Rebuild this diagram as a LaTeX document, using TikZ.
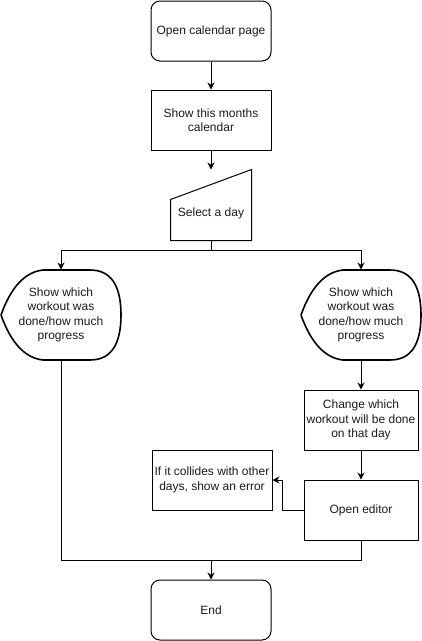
\documentclass[tikz,border=0pt]{standalone}
\usepackage{fontspec}
\setmainfont{Liberation Sans}
\usepackage{tikz}
\usetikzlibrary{positioning,arrows.meta,calc}
\definecolor{linedark}{HTML}{000000}
\definecolor{textdark}{HTML}{1A1A1A}

\tikzset{
  box/.style={draw=linedark, line width=1pt, minimum width=120pt, minimum height=60pt,
    inner sep=0pt, align=center, text=textdark, font=\fontsize{12}{14.5}\selectfont},
  termbox/.style={box, rounded corners=9pt},
  narrowbox/.style={box, minimum width=114pt},
  dispbox/.style={box, draw=none, minimum height=90pt},
  inbox/.style={box, draw=none, minimum width=80pt, minimum height=70pt},
  outline/.style={draw=linedark, line width=1.6pt, line join=round},
  arr/.style={-{Stealth[length=7pt,width=7pt]}, line width=1pt, linedark},
  wire/.style={line width=1pt, linedark}
}

% outline of the curved display shape around a node
\newcommand{\dispoutline}[1]{%
  \draw[outline] ($(#1)+(-18,-45)$) -- ($(#1)+(29,-45)$)
    .. controls ($(#1)+(49.7,-45)$) and ($(#1)+(60,-30)$) .. ($(#1)+(60,0)$)
    .. controls ($(#1)+(60,30)$) and ($(#1)+(49.7,45)$) .. ($(#1)+(29,45)$)
    -- ($(#1)+(-18,45)$)
    .. controls ($(#1)+(-36,43)$) and ($(#1)+(-50,28)$) .. ($(#1)+(-60,0)$)
    .. controls ($(#1)+(-50,-28)$) and ($(#1)+(-36,-43)$) .. cycle;}

\begin{document}
\begin{tikzpicture}[x=1pt, y=-1pt]
  \useasboundingbox (0,0) rectangle (422,641);

  % steps
  \node[termbox] (start) at (211,31) {Open calendar page};
  \node[box] (cal) at (211,120) {Show this months\\calendar};
  \node[inbox, label={[yshift=-8pt, font=\fontsize{12}{14.5}\selectfont, text=textdark]center:Select a day}] (sel) at (211,205) {};
  \draw[line width=1pt, linedark] (sel.south west) -- (sel.south east) -- (sel.north east) -- ($(sel.north west)+(0,30)$) -- cycle;

  \node[dispbox] (lshow) at (61,315) {Show which\\workout was\\done/how much\\progress};
  \node[dispbox] (rshow) at (361,315) {Show which\\workout was\\done/how much\\progress};
  \dispoutline{lshow}
  \dispoutline{rshow}

  \node[narrowbox] (change) at (361,420) {Change which\\workout will be done\\on that day};
  \node[narrowbox] (editor) at (361,510) {Open editor};
  \node[box] (error) at (212,480) {If it collides with other\\days, show an error};
  \node[termbox] (endn) at (211,610) {End};

  % helper points
  \coordinate (split) at (211,250);
  \coordinate (bend) at (282,510);
  \coordinate (join) at (211,560);

  % connectors
  \draw[arr] (start) -- (cal);
  \draw[arr] (cal) -- (sel);
  \draw[wire] (sel.south) -- (split);
  \draw[arr] (split) -| (lshow.north);
  \draw[arr] (split) -| (rshow.north);
  \draw[arr] (rshow.south) -- (change.north);
  \draw[arr] (change) -- (editor);
  \draw[arr] (editor.west) -- (bend) |- (error.east);
  \draw[wire] (lshow.south) |- (join);
  \draw[wire] (editor.south) |- (join);
  \draw[arr] (join) -- (endn.north);
\end{tikzpicture}
\end{document}
